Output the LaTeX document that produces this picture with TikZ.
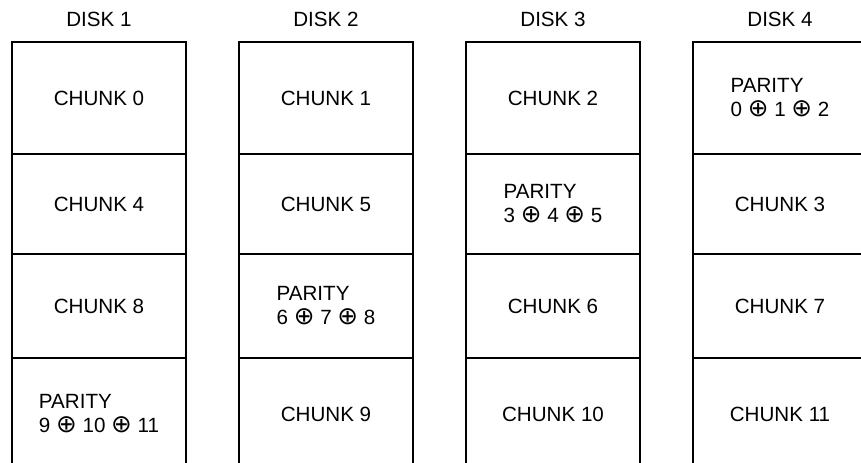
\documentclass[tikz,border=0pt]{standalone}
\usepackage{fontspec}
\setmainfont{Liberation Sans}
\newfontfamily\xorfont{DejaVu Sans}[Scale=1.2]
\newcommand{\xor}{{\xorfont ⊕}}
\usetikzlibrary{positioning}

\begin{document}
\begin{tikzpicture}[
  node distance=0pt and 26.5pt,
  chunk/.style={draw, line width=1pt, align=left, minimum width=87pt, inner sep=0pt, outer sep=0pt, font=\fontsize{10.3pt}{12pt}\selectfont},
  rowa/.style={chunk, minimum height=56pt},
  rowb/.style={chunk, minimum height=50pt},
  rowc/.style={chunk, minimum height=52pt},
  rowd/.style={chunk, minimum height=56pt},
  disk/.style={inner sep=0pt, font=\fontsize{10.3pt}{12pt}\selectfont}
]
\useasboundingbox (0,0) rectangle (430.5pt,-231pt);
\clip (0,0) rectangle (430.5pt,-231pt);

% disk 1
\node[rowa, anchor=north west] (c0) at (6pt,-21pt) {CHUNK 0};
\node[rowb, below=of c0] (c4) {CHUNK 4};
\node[rowc, below=of c4] (c8) {CHUNK 8};
\node[rowd, below=of c8] (p91011) {PARITY\\9 \xor{} 10 \xor{} 11};

% disk 2
\node[rowa, right=of c0] (c1) {CHUNK 1};
\node[rowb, right=of c4] (c5) {CHUNK 5};
\node[rowc, right=of c8] (p678) {PARITY\\6 \xor{} 7 \xor{} 8};
\node[rowd, right=of p91011] (c9) {CHUNK 9};

% disk 3
\node[rowa, right=of c1] (c2) {CHUNK 2};
\node[rowb, right=of c5] (p345) {PARITY\\3 \xor{} 4 \xor{} 5};
\node[rowc, right=of p678] (c6) {CHUNK 6};
\node[rowd, right=of c9] (c10) {CHUNK 10};

% disk 4
\node[rowa, right=of c2] (p012) {PARITY\\0 \xor{} 1 \xor{} 2};
\node[rowb, right=of p345] (c3) {CHUNK 3};
\node[rowc, right=of c6] (c7) {CHUNK 7};
\node[rowd, right=of c10] (c11) {CHUNK 11};

% disk labels
\node[disk, above=7.3pt of c0] (d1) {DISK 1};
\node[disk, above=7.3pt of c1] (d2) {DISK 2};
\node[disk, above=7.3pt of c2] (d3) {DISK 3};
\node[disk, above=7.3pt of p012] (d4) {DISK 4};
\end{tikzpicture}
\end{document}
